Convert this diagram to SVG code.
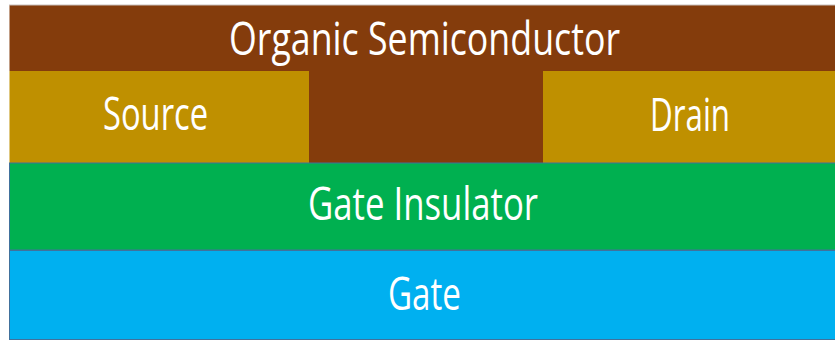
<svg xmlns="http://www.w3.org/2000/svg" width="835" height="341" viewBox="0 0 835 341">
  <style>
    .lbl { font-family: "Open Sans", "Noto Sans", "DejaVu Sans", sans-serif; font-size: 45px; fill: #ffffff; }
    .edge { stroke: #41719C; stroke-width: 1; }
  </style>
  <rect x="0" y="0" width="835" height="341" fill="#ffffff"/>
  <g id="semiconductor">
    <rect x="9.5" y="5" width="826" height="66" fill="#843C0C"/>
    <rect x="309" y="70" width="234" height="94" fill="#843C0C"/>
    <line x1="9" y1="5" x2="835" y2="5" stroke="#c8c0bc" stroke-width="1"/>
    <text class="lbl" x="229" y="55" textLength="391" lengthAdjust="spacingAndGlyphs">Organic Semiconductor</text>
  </g>
  <g id="source">
    <rect x="9.5" y="71" width="299.5" height="92" fill="#BF9000"/>
    <text class="lbl" x="103" y="130" textLength="105" lengthAdjust="spacingAndGlyphs">Source</text>
  </g>
  <g id="drain">
    <rect x="543" y="71" width="292" height="92" fill="#BF9000"/>
    <text class="lbl" x="650" y="131" textLength="80" lengthAdjust="spacingAndGlyphs">Drain</text>
  </g>
  <g id="gate-insulator">
    <rect x="9.5" y="163" width="826" height="87" fill="#00B050" class="edge"/>
    <text class="lbl" x="308" y="220" textLength="230" lengthAdjust="spacingAndGlyphs">Gate Insulator</text>
  </g>
  <g id="gate">
    <rect x="9.5" y="250.5" width="826" height="89" fill="#00B0F0" class="edge"/>
    <text class="lbl" x="388" y="310" textLength="73" lengthAdjust="spacingAndGlyphs">Gate</text>
  </g>
  <g id="connectors"/>
</svg>
